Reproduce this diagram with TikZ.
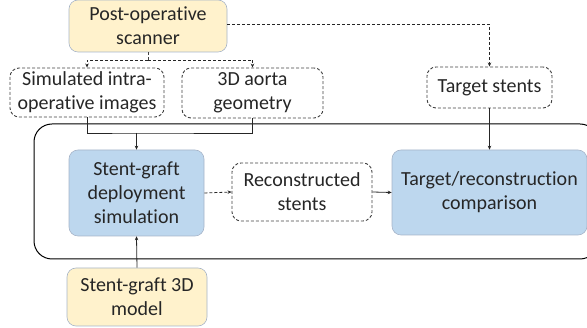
\documentclass[tikz,border=0pt]{standalone}
\usepackage{fontspec}
\setmainfont{Carlito}[Ligatures={NoCommon}]
\usetikzlibrary{arrows.meta}
\definecolor{yfill}{HTML}{FFF2CC}
\definecolor{bfill}{HTML}{BDD7EE}
\definecolor{bord}{HTML}{A6B4C8}
\definecolor{txt}{HTML}{262626}
\tikzset{
  box/.style={rounded corners=9pt, align=center, inner sep=0pt, text=txt,
    font=\fontsize{20}{24}\selectfont},
  ybox/.style={box, fill=yfill, draw=bord, line width=0.6pt},
  bbox/.style={box, fill=bfill, draw=bord, line width=0.6pt},
  dbox/.style={box, draw=black!75, line width=0.9pt, dash pattern=on 3pt off 2pt},
  arr/.style={-{Stealth[length=4pt,width=3.5pt]}, line width=0.8pt, draw=black!85},
  dline/.style={line width=0.9pt, draw=black!75, dash pattern=on 3pt off 2pt},
  sline/.style={line width=0.8pt, draw=black!85},
}
\begin{document}
\begin{tikzpicture}[x=1pt,y=-1pt]
\useasboundingbox (0,0) rectangle (587,328);
% container
\draw[line width=1pt, rounded corners=18pt] (34,124) rectangle (598,259);
% nodes
\node[ybox, minimum width=158pt, minimum height=52pt] (scan) at (148,26) {Post-operative\\scanner};
\node[dbox, minimum width=154pt, minimum height=49pt] (sim) at (87,92.5) {Simulated intra-\\operative images};
\node[dbox, minimum width=141pt, minimum height=50pt] (aorta) at (252.5,93) {3D aorta\\geometry};
\node[dbox, minimum width=125pt, minimum height=41pt] (tgt) at (489.5,87.5) {Target stents};
\node[bbox, minimum width=135pt, minimum height=86pt] (dep) at (136.5,193) {Stent-graft\\deployment\\simulation};
\node[dbox, minimum width=140pt, minimum height=58pt] (rec) at (302,192) {Reconstructed\\stents};
\node[bbox, minimum width=195pt, minimum height=85pt] (cmp) at (489.5,192.5) {Target/reconstruction\\comparison};
\node[ybox, minimum width=140pt, minimum height=58pt] (model) at (137,297) {Stent-graft 3D\\model};
% connectors
\coordinate (j1) at (148,60);
\coordinate (j2) at (136.5,133);
\draw[dline] (scan.south) -- (j1);
\draw[dline, arr, dash pattern=on 3pt off 2pt] (j1) -| (sim.north);
\draw[dline, arr, dash pattern=on 3pt off 2pt] (j1) -| (aorta.north);
\draw[dline, arr, dash pattern=on 3pt off 2pt] (scan.east |- 0,24) -| (tgt.north);
\draw[sline] (sim.south) |- (j2) -| (aorta.south);
\draw[arr] (j2) -- (dep.north);
\draw[arr, dash pattern=on 3pt off 2pt] (dep.east) -- (rec.west);
\draw[arr] (rec.east) -- (cmp.west);
\draw[arr] (tgt.south) -- (cmp.north);
\draw[arr] (model.north) -- (dep.south);
\end{tikzpicture}
\end{document}
